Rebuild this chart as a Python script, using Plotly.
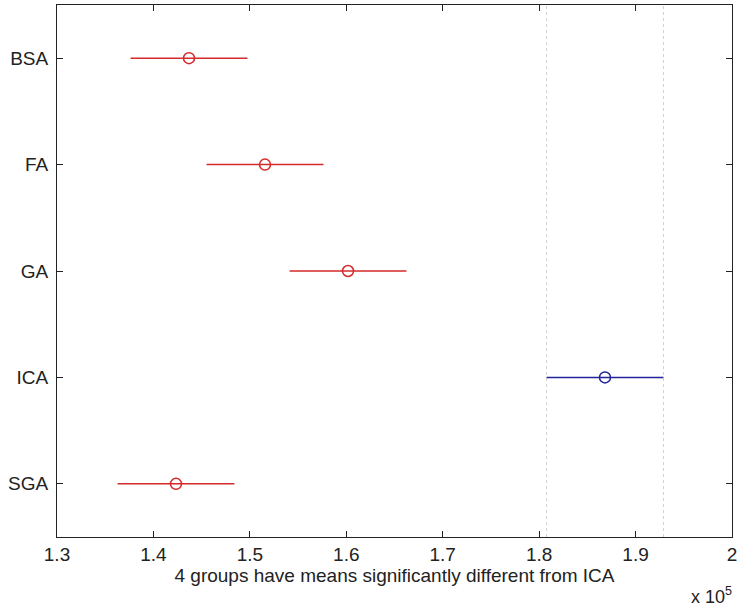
import plotly.graph_objects as go

groups = ["BSA", "FA", "GA", "ICA", "SGA"]
means = [1.4369, 1.5157, 1.6018, 1.8683, 1.4234]
half_width = [0.0606, 0.0606, 0.0606, 0.0606, 0.0606]
colors = ["#d42a2a", "#d42a2a", "#d42a2a", "#22229a", "#d42a2a"]
ref_group = "ICA"
xtick_vals = [1.3, 1.4, 1.5, 1.6, 1.7, 1.8, 1.9, 2.0]
xtick_text = ["1.3", "1.4", "1.5", "1.6", "1.7", "1.8", "1.9", "2"]

fig = go.Figure()
for g, m, h, c in zip(groups, means, half_width, colors):
    fig.add_trace(go.Scatter(x=[m - h, m + h], y=[g, g], mode="lines",
                             line=dict(color=c, width=1.5), showlegend=False))
    fig.add_trace(go.Scatter(x=[m], y=[g], mode="markers",
                             marker=dict(symbol="circle-open", size=11, color=c,
                                         line=dict(width=1.5, color=c)),
                             showlegend=False))

ri = groups.index(ref_group)
for xv in [means[ri] - half_width[ri], means[ri] + half_width[ri]]:
    fig.add_shape(type="line", x0=xv, x1=xv, y0=0, y1=1, xref="x", yref="paper",
                  line=dict(color="#d0d0d0", width=1, dash="dot"), layer="below")

fig.update_layout(
    width=738, height=608,
    margin=dict(l=57, r=6, t=5, b=71, autoexpand=False),
    plot_bgcolor="white", paper_bgcolor="white",
    font=dict(family="Liberation Sans, Arial, sans-serif", size=19, color="#222222"),
    xaxis=dict(range=[1.3, 2.0], tickvals=xtick_vals, ticktext=xtick_text,
               ticks="inside", ticklen=6, tickcolor="#222", mirror="ticks",
               showline=True, linecolor="#222", linewidth=1, showgrid=False,
               zeroline=False, automargin=False, tickfont=dict(size=19),
               ticklabeloverflow="allow", ticklabelstandoff=0,
               title=dict(text="4 groups have means significantly different from ICA",
                          font=dict(size=19), standoff=4)),
    yaxis=dict(categoryorder="array", categoryarray=groups[::-1],
               range=[-0.5, 4.5], ticks="inside", ticklen=6, tickcolor="#222",
               mirror="ticks", showline=True, linecolor="#222", linewidth=1,
               showgrid=False, zeroline=False, automargin=False,
               tickfont=dict(size=19), ticklabelstandoff=4),
)
fig.add_annotation(text="x 10<sup>5</sup>", x=1.0, y=0, xref="paper", yref="paper",
                   xanchor="right", yanchor="top", yshift=-45, xshift=2,
                   showarrow=False, font=dict(size=18, color="#222"))

fig.write_html("out.html", config={"displayModeBar": False})

with open("out.html", "r", encoding="utf-8") as f:
    html = f.read()
html = html.replace("<head>", "<head><style>html,body{margin:0;padding:0;overflow:hidden;}</style>", 1)
with open("out.html", "w", encoding="utf-8") as f:
    f.write(html)
